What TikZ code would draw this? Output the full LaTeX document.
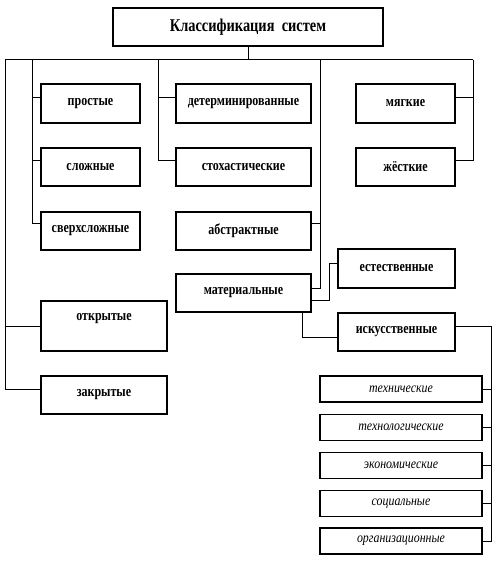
\documentclass[tikz,border=0pt]{standalone}
\usepackage{fontspec}
\setmainfont{Liberation Serif}
\newfontfamily\narrowfont[FakeStretch=0.8]{Liberation Serif}
\newfontfamily\narrowit[FakeStretch=0.85]{Liberation Serif}
\begin{document}
\begin{tikzpicture}[x=1pt,y=-1pt,
  box/.style={draw, line width=1.2pt, fill=white, inner sep=0pt, font=\narrowfont\fontsize{15}{17}\selectfont\bfseries},
  sub/.style={draw, line width=1.2pt, fill=white, inner sep=0pt, minimum width=162pt, minimum height=26pt, font=\narrowit\fontsize{14}{16}\selectfont\itshape},
  wire/.style={line width=1pt}]
\useasboundingbox (0,0) rectangle (503,564);
% boxes
\node[box, minimum width=270pt, minimum height=38pt, font=\narrowfont\fontsize{18}{20}\selectfont\bfseries] (title) at (248,27) {Классификация\ \ систем};
\node[box, minimum width=99pt, minimum height=39pt] (simple) at (90.5,103.5) {простые};
\node[box, minimum width=99pt, minimum height=38pt] (complex) at (90.5,167) {сложные};
\node[box, minimum width=99pt, minimum height=38pt] (super) at (90.5,231) {сверхсложные};
\node[box, minimum width=135pt, minimum height=39pt] (det) at (243.5,103.5) {детерминированные};
\node[box, minimum width=135pt, minimum height=38pt] (sto) at (243.5,167) {стохастические};
\node[box, minimum width=135pt, minimum height=38pt] (abs) at (243.5,231) {абстрактные};
\node[box, minimum width=135pt, minimum height=38pt] (mat) at (243.5,293) {материальные};
\node[box, minimum width=99pt, minimum height=39pt] (soft) at (405.5,103.5) {мягкие};
\node[box, minimum width=99pt, minimum height=38pt] (hard) at (405.5,167) {жёсткие};
\node[box, minimum width=117pt, minimum height=39pt] (nat) at (396.5,268.5) {естественные};
\node[box, minimum width=117pt, minimum height=38pt] (art) at (396.5,332) {искусственные};
\node[box, minimum width=126pt, minimum height=50pt, text depth=18pt] (open) at (104,326) {открытые};
\node[box, minimum width=126pt, minimum height=38pt] (closed) at (104,395) {закрытые};
\node[sub] (s1) at (401,389) {технические};
\node[sub] (s2) at (401,427.5) {технологические};
\node[sub] (s3) at (401,465.5) {экономические};
\node[sub] (s4) at (401,503.5) {социальные};
\node[sub] (s5) at (401,541) {организационные};
% bus
\coordinate (b1) at (5,60);
\coordinate (b2) at (32,60);
\coordinate (b3) at (158,60);
\coordinate (b4) at (320,60);
\coordinate (b5) at (473,60);
\coordinate (ar) at (491.5,326);
\draw[wire] (title.south) -- (title.south |- b1);
\draw[wire] (b1) -- (b5);
\draw[wire] (b1) |- (open.west);
\draw[wire] (b1) |- ([yshift=6pt]closed.west);
\draw[wire] (b2) |- ([yshift=5.5pt]simple.west);
\draw[wire] (b2) |- ([yshift=6pt]complex.west);
\draw[wire] (b2) |- ([yshift=8pt]super.west);
\draw[wire] (b3) |- ([yshift=5.5pt]det.west);
\draw[wire] (b3) |- ([yshift=6pt]sto.west);
\draw[wire] (b4) |- ([yshift=5pt]mat.east);
\draw[wire] ([yshift=8pt]abs.east) -| (b4);
\draw[wire] (b5) |- ([yshift=5.5pt]soft.east);
\draw[wire] (b5) |- ([yshift=6pt]hard.east);
\draw[wire] ([yshift=-7pt]mat.east) -- ++(18,0) |- ([yshift=5.5pt]nat.west);
\draw[wire] ([xshift=58.5pt]mat.south) |- ([yshift=-5pt]art.west);
\draw[wire] ([yshift=6pt]art.east) -| (ar) |- (s5.east);
\foreach \s in {s1,s2,s3,s4}
  \draw[wire] (\s.east) -- (\s.east -| ar);
\end{tikzpicture}
\end{document}
